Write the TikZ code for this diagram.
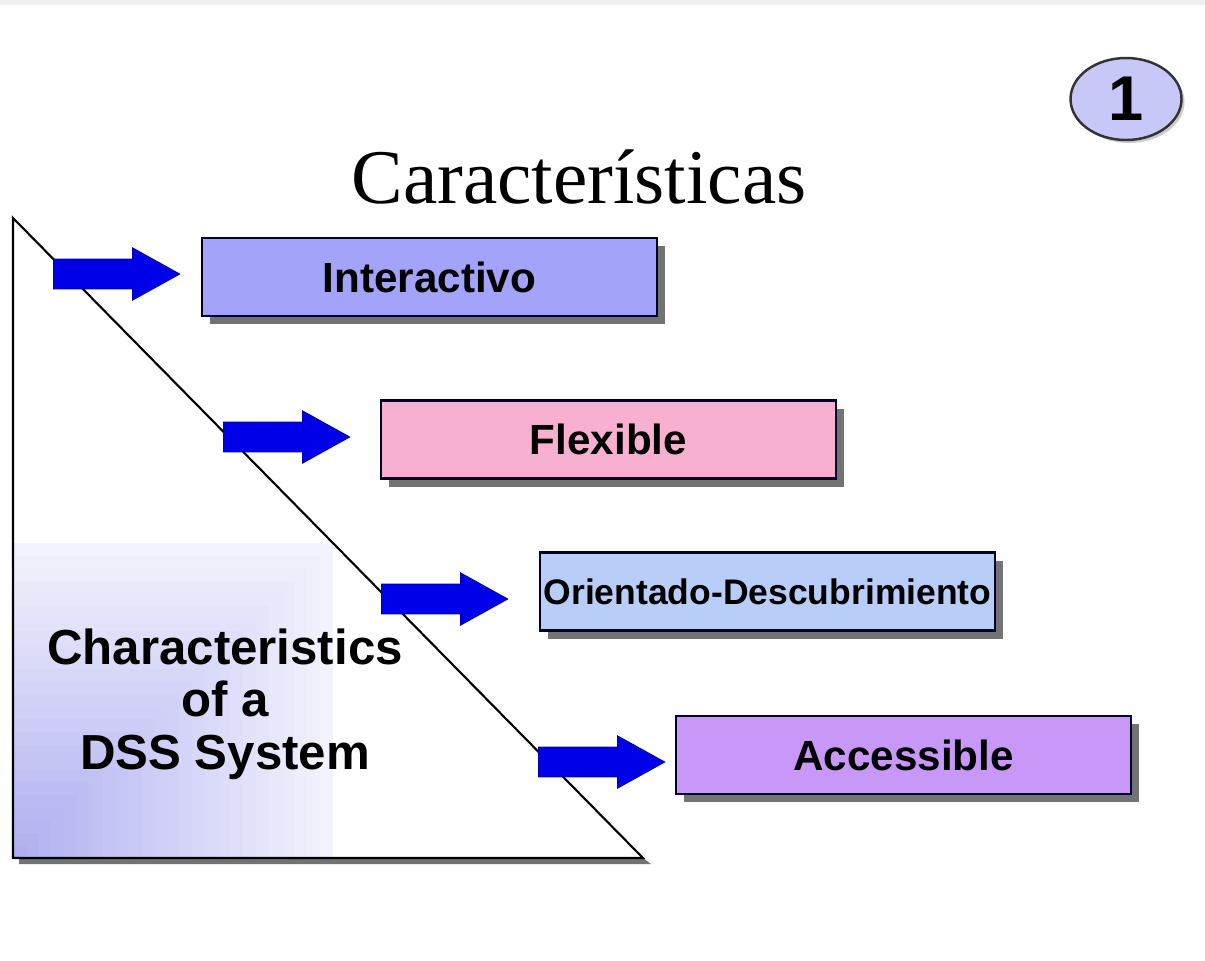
\documentclass[tikz,border=0pt]{standalone}
\usepackage{fontspec}
\setmainfont{Liberation Serif}
\setsansfont{Liberation Sans}
\usetikzlibrary{shapes.geometric, shapes.arrows, shadows}

\definecolor{interblue}{RGB}{163,163,250}
\definecolor{flexpink}{RGB}{248,176,208}
\definecolor{orientblue}{RGB}{184,206,248}
\definecolor{accpurple}{RGB}{200,152,248}
\definecolor{arrowblue}{RGB}{0,0,232}
\definecolor{lav}{RGB}{168,168,240}
\definecolor{badge}{RGB}{200,200,248}

\begin{document}
\begin{tikzpicture}[font=\sffamily, line join=miter,
	box/.style={draw=black!85!blue, line width=0.6pt, minimum width=4.55cm, minimum height=0.78cm, inner sep=0pt,
		font=\sffamily\bfseries\fontsize{12}{14}\selectfont,
		drop shadow={shadow xshift=0.08cm, shadow yshift=-0.08cm, opacity=1, fill=black!55}},
	blockarrow/.style={single arrow, fill=arrowblue, draw=arrowblue!75!black, line width=0.3pt,
		minimum height=1.26cm, minimum width=0.52cm, inner xsep=0pt, inner ysep=0.14cm,
		single arrow head extend=0.11cm, single arrow tip angle=58, anchor=tail}]

	\useasboundingbox (0, 0) rectangle (12.05, 9.6);
	\fill[gray!12] (0, 9.55) rectangle (12.05, 9.6);

	% triangulo
	\fill[black!55] (0.19, 0.96) -- (6.51, 0.96) -- (6.43, 1.02) -- (0.19, 1.02) -- cycle;
	\fill[white] (0.13, 7.42) -- (0.13, 1.02) -- (6.43, 1.02) -- cycle;
	\begin{scope}
		\clip (0.13, 7.42) -- (0.13, 1.02) -- (6.43, 1.02) -- cycle;
		\foreach \i in {0,...,24} {
			\pgfmathsetmacro{\p}{14+3.2*\i}
			\pgfmathsetmacro{\w}{3.2*(1-\i/25)}
			\pgfmathsetmacro{\h}{3.15*(1-\i/25)}
			\fill[lav!\p!white] (0.13, 1.02) rectangle ++(\w, \h);
		}
	\end{scope}
	\draw[line width=0.6pt] (0.13, 7.42) -- (0.13, 1.02) -- (6.43, 1.02) -- cycle;

	\node[font=\sffamily\bfseries\fontsize{14}{14.9}\selectfont, align=center] (dss) at (2.25, 2.56) {Characteristics\\of a\\DSS System};

	% titulo
	\node[font=\rmfamily\fontsize{22}{26}\selectfont, anchor=base] (titulo) at (5.79, 7.57) {Características};
	\node[ellipse, draw=black!80, line width=0.7pt, fill=badge, minimum width=1.11cm, minimum height=0.82cm, inner sep=0pt,
		font=\sffamily\bfseries\fontsize{18}{18}\selectfont,
		drop shadow={shadow xshift=0.03cm, shadow yshift=-0.03cm, opacity=1, fill=black!20}] (uno) at (11.26, 8.61) {1};

	% cajas
	\node[box, fill=interblue] (interactivo) at (4.295, 6.83) {Interactivo};
	\node[box, fill=flexpink] (flexible) at (6.085, 5.205) {Flexible};
	\node[box, fill=orientblue, font=\sffamily\bfseries\fontsize{10.1}{12}\selectfont] (orientado) at (7.675, 3.685) {Orientado-Descubrimiento};
	\node[box, fill=accpurple] (accessible) at (9.035, 2.05) {Accessible};

	% flechas
	\node[blockarrow] (arrInter) at (0.53, 6.86) {};
	\node[blockarrow] (arrFlex) at (2.23, 5.23) {};
	\node[blockarrow] (arrOrient) at (3.81, 3.61) {};
	\node[blockarrow] (arrAcc) at (5.38, 1.98) {};
\end{tikzpicture}
\end{document}
